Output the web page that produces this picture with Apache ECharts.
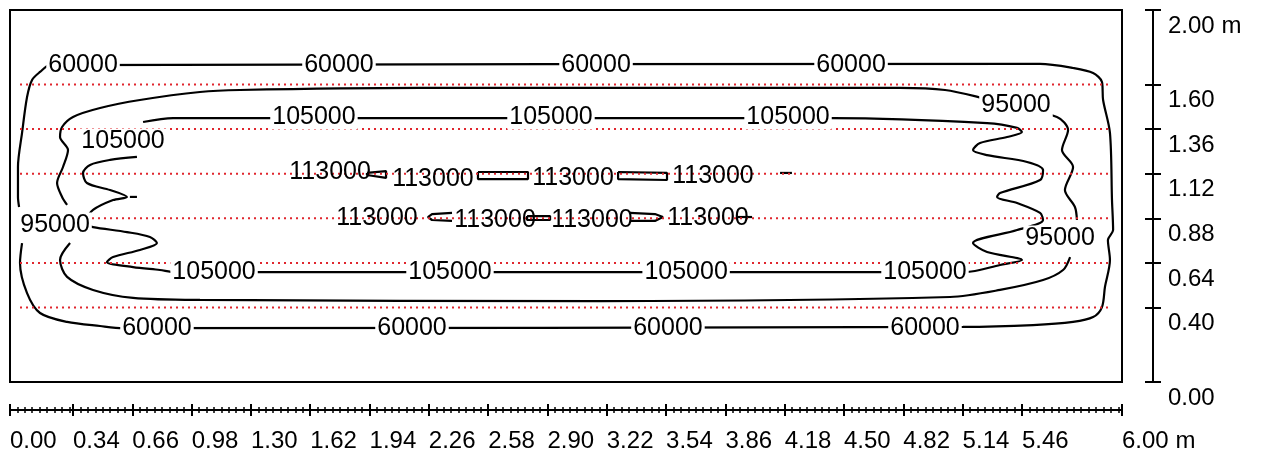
<!DOCTYPE html>
<html>
<head>
<meta charset="utf-8">
<script src="https://cdn.jsdelivr.net/npm/echarts@6/dist/echarts.min.js"></script>
<style>
html,body{margin:0;padding:0;background:#fff;}
#chart{width:1261px;height:457px;}
</style>
</head>
<body>
<div id="chart"></div>
<script>
// ---- axis ticks / labels (metres) ----
const xMajorTicks = [0, 0.34, 0.66, 0.98, 1.30, 1.62, 1.94, 2.26, 2.58, 2.90, 3.22, 3.54, 3.86, 4.18, 4.50, 4.82, 5.14, 5.46, 6.00];
const yTicks = [0, 0.40, 0.64, 0.88, 1.12, 1.36, 1.60, 2.00];
const refLinesY = [0.40, 0.64, 0.88, 1.12, 1.36, 1.60];
const refLinesX = [0.054, 5.946];

// ---- contour levels ----
const levels = [60000, 95000, 105000, 113000];

// ---- contour polylines [x m, y m], one array per unbroken segment ----
const contour60000 = [
  [[0.049,0.941],[0.043,0.995],[0.043,1.156],[0.065,1.339],[0.092,1.532],[0.119,1.624],[0.162,1.667],[0.216,1.704],[5.558,1.710],[5.736,1.688],[5.844,1.661],[5.892,1.613],[5.898,1.516],[5.935,1.339],[5.946,0.978],[5.952,0.817],[5.924,0.763],[5.935,0.656],[5.908,0.511],[5.892,0.403],[5.844,0.349],[5.736,0.323],[5.520,0.306],[5.142,0.296],[0.610,0.290],[0.486,0.301],[0.308,0.323],[0.162,0.371],[0.092,0.478],[0.054,0.640],[0.065,0.747]]
];
const contour95000 = [
  [[0.308,0.952],[0.281,0.995],[0.254,1.070],[0.286,1.156],[0.313,1.247],[0.270,1.317],[0.281,1.371],[0.340,1.425],[0.486,1.473],[0.701,1.516],[1.025,1.559],[1.241,1.570],[2.212,1.581],[4.802,1.581],[5.045,1.570],[5.245,1.527],[5.649,1.425],[5.709,1.355],[5.676,1.247],[5.736,1.156],[5.692,1.032],[5.746,0.941],[5.757,0.871]],
  [[5.720,0.672],[5.682,0.602],[5.574,0.548],[5.342,0.495],[5.072,0.457],[3.184,0.435],[1.025,0.441],[0.664,0.452],[0.448,0.495],[0.308,0.565],[0.270,0.656],[0.324,0.747]]
];
const contour105000 = [
  [[0.685,1.210],[0.540,1.194],[0.432,1.167],[0.394,1.124],[0.415,1.070],[0.540,1.032],[0.631,0.995],[0.556,0.978],[0.448,0.925],[0.415,0.871],[0.421,0.844],[0.448,0.833],[0.631,0.806],[0.755,0.780],[0.793,0.747],[0.701,0.710],[0.556,0.672],[0.523,0.645],[0.664,0.618],[0.809,0.602],[0.890,0.591],[5.153,0.591],[5.342,0.629],[5.460,0.656],[5.272,0.699],[5.196,0.747],[5.434,0.817],[5.574,0.871],[5.558,0.909],[5.434,0.962],[5.326,0.995],[5.342,1.016],[5.558,1.086],[5.574,1.140],[5.488,1.183],[5.272,1.220],[5.196,1.247],[5.234,1.285],[5.380,1.317],[5.460,1.344],[5.434,1.366],[5.272,1.392],[4.441,1.419],[0.880,1.419],[0.718,1.398]],
  [[0.647,0.995],[0.685,0.995]]
];
const contour113000 = [
  [[1.926,1.124],[2.029,1.134],[2.029,1.097],[1.926,1.113],[1.926,1.124]],
  [[2.525,1.129],[2.795,1.129],[2.795,1.091],[2.525,1.091],[2.525,1.129]],
  [[3.281,1.129],[3.545,1.124],[3.545,1.086],[3.281,1.091],[3.281,1.129]],
  [[4.155,1.124],[4.219,1.124]],
  [[2.385,0.909],[2.277,0.903],[2.255,0.887],[2.277,0.871],[2.385,0.866]],
  [[2.790,0.892],[2.914,0.892],[2.914,0.871],[2.790,0.871],[2.790,0.892]],
  [[3.345,0.909],[3.480,0.903],[3.523,0.887],[3.480,0.866],[3.345,0.866]],
  [[3.928,0.887],[4.004,0.887]]
];

// ---- contour label positions [x m, y m] ----
const labels60000 = [[0.394,1.704],[1.775,1.704],[3.162,1.704],[4.538,1.704],[0.793,0.290],[2.169,0.290],[3.550,0.290],[4.937,0.290]];
const labels95000 = [[0.243,0.844],[5.428,1.489],[5.666,0.774]];
const labels105000 = [[1.640,1.425],[2.919,1.425],[4.198,1.425],[0.610,1.296],[1.101,0.591],[2.374,0.591],[3.648,0.591],[4.937,0.591]];
const labels113000 = [[1.727,1.129],[2.282,1.091],[3.038,1.097],[3.793,1.108],[1.980,0.882],[2.617,0.871],[3.140,0.871],[3.766,0.882]];

const contours = [contour60000, contour95000, contour105000, contour113000];
const labelSets = [labels60000, labels95000, labels105000, labels113000];

// minor ticks between majors
const xMinorTicks = [];
for (let i = 0; i < xMajorTicks.length - 1; i++) {
  const a = xMajorTicks[i], b = xMajorTicks[i + 1];
  const step = 0.04;
  let v = (i === 0) ? step : a + step;
  while (v < b - 0.015) { xMinorTicks.push(+v.toFixed(3)); v += step; }
}

const FONT = '"Liberation Sans", Arial, sans-serif';
const INK = '#000';

const series = [];
contours.forEach((segs, li) => {
  segs.forEach(seg => {
    series.push({
      type: 'line', data: seg, xAxisIndex: 0, yAxisIndex: 0,
      symbol: 'none', smooth: levels[li] === 113000 ? false : 0.3,
      lineStyle: { color: INK, width: 2.2 }, z: 2, silent: true
    });
  });
});
refLinesY.forEach(y => {
  series.push({
    type: 'line', data: [[refLinesX[0], y], [refLinesX[1], y]],
    symbol: 'none', lineStyle: { color: '#e0262e', width: 2, type: [2, 4] }, z: 3, silent: true
  });
});
labelSets.forEach((pts, li) => {
  series.push({
    type: 'scatter', data: pts, symbolSize: 1,
    itemStyle: { color: 'rgba(0,0,0,0)', opacity: 1 }, z: 4, silent: true,
    label: {
      show: true, position: 'inside', formatter: String(levels[li]),
      fontSize: 25, fontFamily: FONT, color: INK, opacity: 1,
      backgroundColor: levels[li] === 113000 ? 'transparent' : '#fff',
      padding: [0, 2]
    }
  });
});

const chart = echarts.init(document.getElementById('chart'));
chart.setOption({
  animation: false,
  grid: { left: 10, top: 10, width: 1112, height: 372, show: true, borderColor: INK, borderWidth: 2, backgroundColor: 'transparent' },
  xAxis: [
    { type: 'value', min: 0, max: 6, position: 'bottom', offset: 28,
      axisLine: { show: true, onZero: false, lineStyle: { color: INK, width: 2 } },
      axisTick: { show: false }, splitLine: { show: false },
      axisLabel: { show: true, customValues: xMajorTicks, align: 'left', margin: 19,
        fontSize: 24, fontFamily: FONT, color: INK, showMinLabel: true, showMaxLabel: true,
        formatter: v => v === 6 ? '6.00 m' : v.toFixed(2) } },
    { type: 'value', min: 0, max: 6, position: 'bottom', offset: 22,
      axisLine: { show: false, onZero: false }, splitLine: { show: false }, axisLabel: { show: false },
      axisTick: { show: true, customValues: xMajorTicks, length: 12, inside: false, lineStyle: { color: INK, width: 2 } } },
    { type: 'value', min: 0, max: 6, position: 'bottom', offset: 25,
      axisLine: { show: false, onZero: false }, splitLine: { show: false }, axisLabel: { show: false },
      axisTick: { show: true, customValues: xMinorTicks, length: 6, inside: false, lineStyle: { color: INK, width: 1.5 } } }
  ],
  yAxis: [
    { type: 'value', min: 0, max: 2, position: 'right', offset: 31,
      axisLine: { show: true, onZero: false, lineStyle: { color: INK, width: 2 } },
      axisTick: { show: false }, splitLine: { show: false },
      axisLabel: { show: true, customValues: yTicks, align: 'left', verticalAlign: 'top', margin: 15,
        padding: [4, 0, 0, 0], fontSize: 24, fontFamily: FONT, color: INK, showMinLabel: true, showMaxLabel: true,
        formatter: v => v === 2 ? '2.00 m' : v.toFixed(2) } },
    { type: 'value', min: 0, max: 2, position: 'right', offset: 23,
      axisLine: { show: false, onZero: false }, splitLine: { show: false }, axisLabel: { show: false },
      axisTick: { show: true, customValues: yTicks, length: 16, inside: false, lineStyle: { color: INK, width: 2 } } }
  ],
  series: series
});
</script>
</body>
</html>
